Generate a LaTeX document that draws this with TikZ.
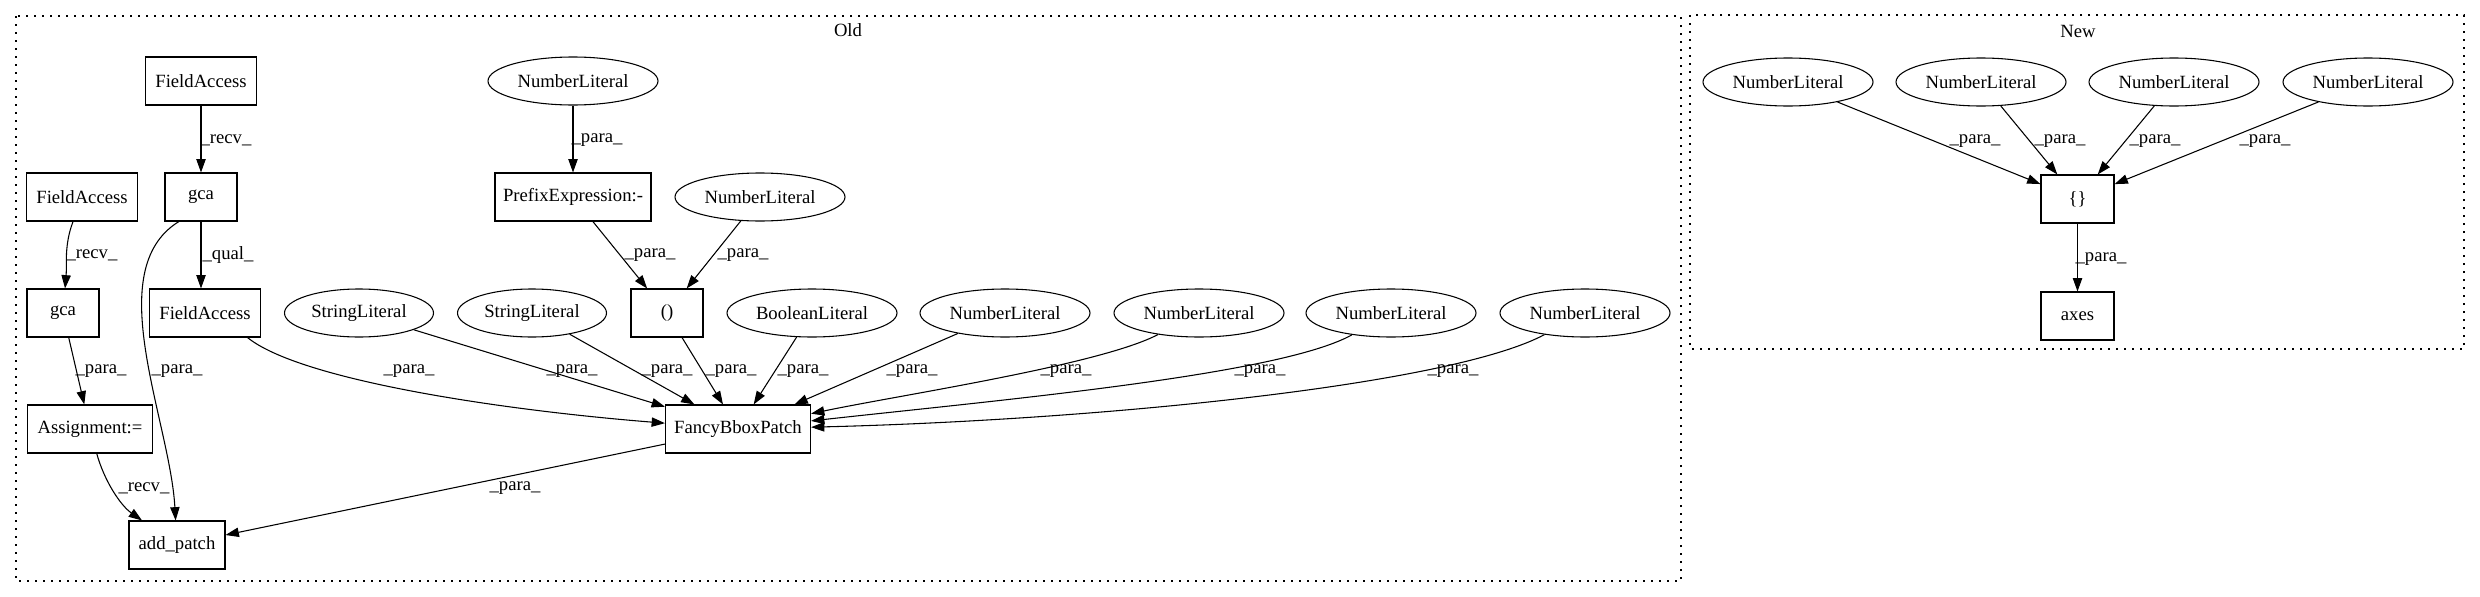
\documentclass[tikz,border=0pt]{standalone}
\usepackage{fontspec}
\setmainfont{Liberation Serif}
\usetikzlibrary{arrows.meta,shapes.geometric}
\begin{document}
\begin{tikzpicture}[x=0.75pt,y=-0.75pt,
  every node/.style={font=\fontsize{14pt}{16pt}\selectfont},
  bx/.style={draw,rectangle,line width=0.8pt,minimum height=36pt,inner sep=0pt},
  el/.style={draw,ellipse,line width=0.8pt,minimum height=36pt,inner sep=0pt},
  arr/.style={draw,line width=0.8pt,-{Triangle[length=10pt,width=7pt]}},
  lbl/.style={inner sep=0pt},
  clus/.style={draw,line width=0.9pt,dash pattern=on 1.5pt off 4.5pt}]
\useasboundingbox (0,0) rectangle (2480,596);
% clusters
\draw[clus] (16,16) rectangle (1681,581);
\draw[clus] (1690,15) rectangle (2464,349);
\node[lbl] (oldlbl) at (848,30) {Old};
\node[lbl] (newlbl) at (2078,31) {New};
% Old nodes
\node[bx,minimum width=83.25pt] (fa1) at (201,81) {FieldAccess};
\node[bx,minimum width=54pt] (gca1) at (201,197) {gca};
\node[bx,minimum width=83.25pt] (fa2) at (82,197) {FieldAccess};
\node[bx,minimum width=54pt] (gca2) at (63,313) {gca};
\node[bx,minimum width=83.25pt] (faq) at (205,313) {FieldAccess};
\node[bx,minimum width=93.75pt] (asg) at (90,429) {Assignment:=};
\node[bx,minimum width=72pt] (ap) at (177,545) {add\_patch};
\node[el,minimum width=127.5pt] (nl1) at (573,81) {NumberLiteral};
\node[bx,minimum width=117pt] (pre) at (573,197) {PrefixExpression:-};
\node[el,minimum width=127.5pt] (nl2) at (760,197) {NumberLiteral};
\node[bx,minimum width=54pt] (par) at (667,313) {()};
\node[el,minimum width=111.75pt] (sl1) at (359,313) {StringLiteral};
\node[el,minimum width=111.75pt] (sl2) at (532,313) {StringLiteral};
\node[el,minimum width=127.5pt] (bool) at (812,313) {BooleanLiteral};
\node[el,minimum width=127.5pt] (nl3) at (1005,313) {NumberLiteral};
\node[el,minimum width=127.5pt] (nl4) at (1199,313) {NumberLiteral};
\node[el,minimum width=127.5pt] (nl5) at (1391,313) {NumberLiteral};
\node[el,minimum width=127.5pt] (nl6) at (1585,313) {NumberLiteral};
\node[bx,minimum width=108.75pt] (fbp) at (738,429) {FancyBboxPatch};
% New nodes
\node[el,minimum width=127.5pt] (m1) at (1788,82) {NumberLiteral};
\node[el,minimum width=127.5pt] (m2) at (1981,82) {NumberLiteral};
\node[el,minimum width=127.5pt] (m3) at (2174,82) {NumberLiteral};
\node[el,minimum width=127.5pt] (m4) at (2368,82) {NumberLiteral};
\node[bx,minimum width=54.75pt] (br) at (2077.5,199) {\{\}};
\node[bx,minimum width=54.75pt] (axes) at (2077.5,316) {axes};
% Old edges
\draw[arr] (fa1) -- (gca1);
\draw[arr] (fa2.-110) .. controls (64,245) and (67,265) .. (gca2);
\draw[arr] (gca1) -- (gca1 |- faq.north);
\draw[arr] (gca1.-132) .. controls (100,270) and (170,420) .. (ap);
\draw[arr] (gca2) -- (asg);
\draw[arr] (asg) .. controls (104,480) and (120,505) .. (ap);
\draw[arr] (fbp) -- (ap);
\draw[arr] (nl1) -- (pre);
\draw[arr] (pre) -- (par);
\draw[arr] (nl2) -- (par);
\draw[arr] (faq.-30) .. controls (300,380) and (500,410) .. (fbp);
\draw[arr] (sl1) -- (fbp);
\draw[arr] (sl2) -- (fbp);
\draw[arr] (par) -- (fbp);
\draw[arr] (bool) -- (fbp);
\draw[arr] (nl3) -- (fbp);
\draw[arr] (nl4) .. controls (1100,365) and (900,395) .. (fbp);
\draw[arr] (nl5) .. controls (1280,375) and (1000,400) .. (fbp);
\draw[arr] (nl6) .. controls (1450,385) and (1100,420) .. (fbp);
% New edges
\draw[arr] (m1) -- (br);
\draw[arr] (m2) -- (br);
\draw[arr] (m3) -- (br);
\draw[arr] (m4) -- (br);
\draw[arr] (br) -- (axes);
% labels
\node[lbl] (l1) at (226,140) {\_recv\_};
\node[lbl] (l2) at (92,255) {\_recv\_};
\node[lbl] (l3) at (228,255) {\_qual\_};
\node[lbl] (l4) at (177,371) {\_para\_};
\node[lbl] (l5) at (101,371) {\_para\_};
\node[lbl] (l6) at (144,488) {\_recv\_};
\node[lbl] (l7) at (515,488) {\_para\_};
\node[lbl] (l8) at (597,140) {\_para\_};
\node[lbl] (l9) at (650,255) {\_para\_};
\node[lbl] (l10) at (743,255) {\_para\_};
\node[lbl] (l11) at (409,371) {\_para\_};
\node[lbl] (l12) at (572,371) {\_para\_};
\node[lbl] (l13) at (667,371) {\_para\_};
\node[lbl] (l14) at (731,371) {\_para\_};
\node[lbl] (l15) at (803,371) {\_para\_};
\node[lbl] (l16) at (912,371) {\_para\_};
\node[lbl] (l17) at (1066,371) {\_para\_};
\node[lbl] (l18) at (1260,371) {\_para\_};
\node[lbl] (l19) at (1453,371) {\_para\_};
\node[lbl] (n1) at (1975,141) {\_para\_};
\node[lbl] (n2) at (2060,141) {\_para\_};
\node[lbl] (n3) at (2155,141) {\_para\_};
\node[lbl] (n4) at (2265,141) {\_para\_};
\node[lbl] (n5) at (2101,259) {\_para\_};
\end{tikzpicture}
\end{document}
